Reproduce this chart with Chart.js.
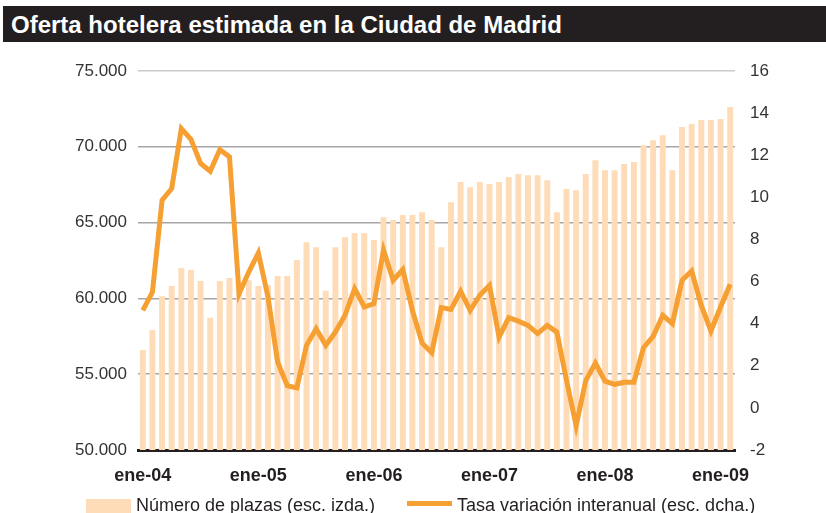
<!DOCTYPE html>
<html>
<head>
<meta charset="utf-8">
<script src="https://cdn.jsdelivr.net/npm/chart.js@4/dist/chart.umd.min.js"></script>
<style>
  html, body { margin: 0; padding: 0; background: #ffffff; overflow: hidden; }
  #wrap { position: relative; width: 826px; height: 513px; }
  #title {
    position: absolute; left: 3px; top: 6px; width: 823px; height: 36px;
    background: #231f20; color: #ffffff;
    font-family: "Liberation Sans", Arial, sans-serif; font-weight: bold; font-size: 24px;
    line-height: 37px; padding-left: 8px; box-sizing: border-box; white-space: nowrap;
  }
  canvas { position: absolute; left: 0; top: 0; }
</style>
</head>
<body>
<div id="wrap">
  <canvas id="c" width="826" height="513"></canvas>
  <div id="title">Oferta hotelera estimada en la Ciudad de Madrid</div>
</div>
<script>
// ---- Data ----
const monthNames = ['ene','feb','mar','abr','may','jun','jul','ago','sep','oct','nov','dic'];
const years = ['04','05','06','07','08','09'];
const categories = [];
years.forEach(y => monthNames.forEach(m => categories.push(m + '-' + y)));
categories.length = 62; // ene-04 .. feb-09

const plazas = [
  56590, 57910, 60150, 60810, 62000, 61870, 61140, 58720, 61140, 61340, 60880, 61200,
  60810, 60880, 61470, 61470, 62530, 63710, 63380, 60500, 63380, 64040, 64310, 64310,
  63850, 65360, 65170, 65500, 65500, 65690, 65170, 63380, 66350, 67670, 67340, 67670,
  67540, 67670, 68000, 68200, 68130, 68130, 67800, 65690, 67210, 67140, 68200, 69120,
  68460, 68460, 68860, 68990, 70110, 70440, 70770, 68460, 71300, 71500, 71760, 71760,
  71830, 72620
];

const tasa = [
  4.63, 5.50, 9.86, 10.42, 13.27, 12.76, 11.61, 11.24, 12.27, 11.92, 5.43, 6.45,
  7.36, 5.27, 2.18, 1.05, 0.95, 2.97, 3.76, 2.97, 3.60, 4.40, 5.66, 4.79,
  4.95, 7.49, 6.06, 6.57, 4.63, 3.08, 2.62, 4.76, 4.67, 5.54, 4.63, 5.35,
  5.82, 3.36, 4.29, 4.12, 3.92, 3.53, 3.92, 3.60, 1.31, -0.85, 1.30, 2.13,
  1.27, 1.12, 1.22, 1.22, 2.86, 3.40, 4.40, 4.00, 6.06, 6.50, 4.87, 3.65,
  4.79, 5.87
];

const leftTicks = [50000, 55000, 60000, 65000, 70000, 75000];
const rightTicks = [-2, 0, 2, 4, 6, 8, 10, 12, 14, 16];

const seriesNames = ['Número de plazas (esc. izda.)', 'Tasa variación interanual (esc. dcha.)'];

const BAR_COLOR = '#fedcb8';
const LINE_COLOR = '#f6a033';
const FONT = '"Liberation Sans", Arial, sans-serif';

function fmtThousands(v) {
  return String(v).replace(/\B(?=(\d{3})+(?!\d))/g, '.');
}

const legendPlugin = {
  id: 'customLegend',
  afterDraw(chart) {
    const ctx = chart.ctx;
    const ds = chart.data.datasets;
    ctx.save();
    ctx.font = '18px ' + FONT;
    ctx.fillStyle = '#231f20';
    ctx.textBaseline = 'alphabetic';
    // bar item
    ctx.fillStyle = ds[1].backgroundColor;
    ctx.fillRect(86, 499, 45, 17);
    ctx.fillStyle = '#231f20';
    ctx.fillText(ds[1].label, 136, 510.5);
    // line item
    ctx.strokeStyle = ds[0].borderColor;
    ctx.lineWidth = 5;
    ctx.beginPath();
    ctx.moveTo(407, 503.5);
    ctx.lineTo(452, 503.5);
    ctx.stroke();
    ctx.fillText(ds[0].label, 457, 510.5);
    ctx.restore();
  }
};

new Chart(document.getElementById('c'), {
  data: {
    labels: categories,
    datasets: [
      {
        type: 'line',
        label: seriesNames[1],
        data: tasa,
        yAxisID: 'y1',
        borderColor: LINE_COLOR,
        backgroundColor: LINE_COLOR,
        borderWidth: 5,
        pointRadius: 0,
        tension: 0,
        borderJoinStyle: 'miter',
        order: 0
      },
      {
        type: 'bar',
        label: seriesNames[0],
        data: plazas,
        yAxisID: 'y',
        backgroundColor: BAR_COLOR,
        borderWidth: 0,
        barPercentage: 0.62,
        categoryPercentage: 1.0,
        order: 1
      }
    ]
  },
  options: {
    responsive: false,
    animation: false,
    events: [],
    layout: { padding: { top: 71, bottom: 18, left: 0, right: 0 } },
    plugins: {
      legend: { display: false },
      tooltip: { enabled: false },
      title: { display: false }
    },
    scales: {
      x: {
        type: 'category',
        offset: true,
        grid: { display: false, drawTicks: false },
        border: { display: true, color: '#231f20', width: 3 },
        ticks: {
          autoSkip: false,
          maxRotation: 0,
          minRotation: 0,
          padding: 15,
          color: '#231f20',
          font: { family: FONT, size: 18, weight: 'bold' },
          callback: function(value, index) {
            return index % 12 === 0 ? this.getLabelForValue(value) : '';
          }
        },
        afterFit: s => { s.height = 45; }
      },
      y: {
        type: 'linear',
        position: 'left',
        min: leftTicks[0],
        max: leftTicks[leftTicks.length - 1],
        afterBuildTicks: s => { s.ticks = leftTicks.map(v => ({ value: v })); },
        grid: {
          drawTicks: false,
          lineWidth: 1.5,
          color: ctx => ctx.tick && ctx.tick.value === 75000 ? '#cccccc' : '#a6a6a6'
        },
        border: { display: false },
        ticks: {
          padding: 11,
          color: '#333333',
          font: { family: FONT, size: 17 },
          callback: v => fmtThousands(v)
        },
        afterFit: s => { s.width = 138; }
      },
      y1: {
        type: 'linear',
        position: 'right',
        min: rightTicks[0],
        max: rightTicks[rightTicks.length - 1],
        afterBuildTicks: s => { s.ticks = rightTicks.map(v => ({ value: v })); },
        grid: { display: false, drawTicks: false },
        border: { display: false },
        ticks: {
          padding: 15,
          color: '#333333',
          font: { family: FONT, size: 17 }
        },
        afterFit: s => { s.width = 91; }
      }
    }
  },
  plugins: [legendPlugin]
});
</script>
</body>
</html>
